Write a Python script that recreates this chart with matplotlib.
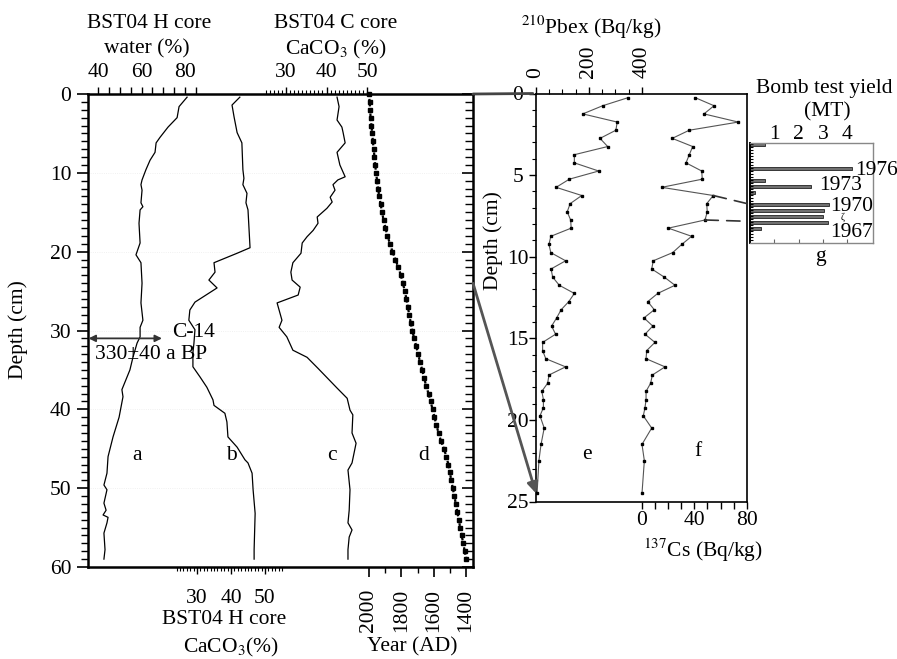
import matplotlib
matplotlib.use('Agg')
import matplotlib.pyplot as plt
from matplotlib.patches import ConnectionPatch
from matplotlib.ticker import FixedLocator

plt.rcParams['font.family'] = ['Liberation Serif', 'DejaVu Serif']
plt.rcParams['mathtext.fontset'] = 'stix'
FS = 15.5
W, H = 897, 659

# ---------------- data ----------------
# a: BST04 H core water content (%)
depth_a = [0.4, 1.6, 3.0, 4.2, 5.5, 6.2, 7.4, 8.4, 9.6, 10.9, 11.5, 12.2, 13.8, 14.3, 14.7,
           16.4, 18.9, 20.4, 21.4, 24.0, 26.5, 28.7, 29.6, 30.8, 31.6, 33.4, 35.0, 37.5, 38.4,
           41.0, 43.5, 46.0, 48.1, 49.6, 50.2, 51.9, 52.8, 53.4, 53.7, 54.4, 55.7, 57.8, 59.0]
water_a = [81.0, 77.3, 76.4, 72.2, 68.5, 66.7, 66.2, 63.9, 62.0, 60.2, 59.7, 60.2, 59.7, 60.6, 59.3,
           58.8, 59.3, 57.4, 59.7, 60.2, 59.7, 60.6, 59.3, 59.3, 57.9, 56.0, 54.6, 50.9, 51.4,
           49.6, 46.8, 44.5, 44.0, 42.6, 44.0, 42.6, 43.6, 42.2, 44.5, 44.0, 42.6, 43.1, 42.6]

# b: BST04 H core CaCO3 (%)
depth_b = [0.4, 1.4, 2.9, 4.9, 6.2, 9.6, 10.7, 11.5, 12.6, 13.8, 14.7, 19.5, 20.2, 21.4, 22.6,
           23.6, 24.6, 26.4, 27.4, 28.7, 29.9, 31.6, 32.8, 34.6, 35.9, 37.2, 38.8, 39.5, 40.5,
           41.6, 43.5, 44.8, 46.4, 46.8, 48.1, 50.2, 53.2, 57.8, 59.0]
caco3_b = [42.6, 40.3, 40.9, 41.8, 43.2, 43.5, 43.8, 43.5, 44.7, 44.4, 45.0, 45.6, 41.8, 35.0, 35.3,
           33.5, 35.9, 29.4, 27.9, 27.6, 29.4, 29.1, 28.8, 28.8, 30.9, 32.9, 34.7, 35.0, 38.2,
           38.8, 39.1, 41.8, 44.1, 45.0, 46.2, 46.5, 47.1, 46.8, 46.8]

# c: BST04 C core CaCO3 (%)
depth_c = [0.4, 1.6, 3.3, 4.2, 4.9, 6.2, 7.4, 9.0, 10.5, 10.9, 11.5, 12.2, 13.1, 13.7, 14.5,
           15.6, 16.4, 17.3, 18.1, 18.9, 20.2, 21.4, 22.6, 23.6, 24.5, 25.5, 26.5, 28.7, 29.6,
           30.8, 32.5, 33.4, 34.8, 37.3, 38.6, 40.1, 40.7, 43.0, 44.3, 46.8, 47.7, 50.2, 52.8,
           54.4, 55.3, 56.2, 57.8, 59.0]
caco3_c = [42.6, 43.1, 42.6, 43.8, 44.1, 44.6, 42.6, 43.3, 44.6, 42.8, 41.6, 42.1, 40.9, 41.4, 40.1,
           37.7, 37.9, 36.7, 35.2, 34.0, 33.7, 31.7, 31.2, 31.5, 33.5, 33.0, 27.8, 29.0, 28.3,
           30.2, 31.7, 35.2, 37.9, 42.6, 45.1, 45.8, 46.5, 46.3, 47.3, 46.3, 45.3, 45.8, 45.6,
           45.3, 46.3, 45.6, 45.3, 45.3]

# d: age model, Year (AD)
depth_d = [0, 1, 2, 3, 4, 5, 6, 7, 8, 9, 10, 11, 12, 13, 14, 15, 16, 17, 18, 19, 20, 21, 22, 23,
           24, 25, 26, 27, 28, 29, 30, 31, 32, 33, 34, 35, 36, 37, 38, 39, 40, 41, 42, 43, 44, 45,
           46, 47, 48, 49, 50, 51, 52, 53, 54, 55, 56, 57, 58, 59]
year_d = [2000, 1996, 1993, 1990, 1985, 1980, 1976, 1971, 1966, 1962, 1956, 1950, 1944, 1936, 1928,
          1919, 1910, 1898, 1886, 1870, 1855, 1837, 1818, 1803, 1791, 1778, 1769, 1760, 1751, 1742,
          1733, 1720, 1708, 1696, 1684, 1671, 1659, 1647, 1632, 1619, 1607, 1595, 1583, 1570, 1555,
          1537, 1521, 1509, 1500, 1491, 1482, 1472, 1463, 1454, 1445, 1436, 1427, 1417, 1408, 1399]

# e, f: 210Pbex and 137Cs (Bq/kg)
depth_ef = [0.25, 0.75, 1.25, 1.75, 2.25, 2.75, 3.25, 3.75, 4.25, 4.75, 5.25, 5.75, 6.25, 6.75,
            7.25, 7.75, 8.25, 8.75, 9.25, 9.75, 10.25, 10.75, 11.25, 11.75, 12.25, 12.75, 13.25,
            13.75, 14.25, 14.75, 15.25, 15.75, 16.25, 16.75, 17.25, 17.75, 18.25, 18.75, 19.25,
            19.75, 20.5, 21.5, 22.5, 24.5]
pb210 = [349, 252, 177, 307, 302, 242, 271, 145, 145, 237, 126, 76, 173, 129, 118, 131, 133, 56,
         49, 56, 112, 57, 63, 88, 145, 124, 95, 78, 59, 74, 25, 25, 37, 112, 49, 44, 22, 28, 28,
         15, 31, 19, 11, 4]
cs137 = [40.5, 55.0, 47.3, 73.5, 36.1, 23.1, 38.7, 36.1, 33.6, 45.6, 46.0, 15.0, 54.4, 49.4, 49.8,
         48.1, 20.1, 37.9, 30.3, 23.4, 8.6, 7.4, 17.0, 25.2, 12.0, 4.4, 9.4, 1.5, 8.2, 2.3, 9.9,
         3.6, 3.1, 17.6, 7.9, 6.6, 3.1, 3.1, 2.3, 1.0, 7.4, 0.0, 1.8, 0.0]

# g: bomb test yield (MT)
bomb_year = [1980, 1976, 1974, 1973, 1972, 1970, 1969, 1968, 1967, 1966]
bomb_yield = [0.6, 4.2, 0.6, 2.5, 0.2, 3.25, 3.05, 3.0, 3.2, 0.45]
bomb_labels = ['1976', '1973', '1970', '1967']

# ---------------- figure ----------------
fig = plt.figure(figsize=(W / 100, H / 100), dpi=100)


def rect(x0, y0, x1, y1):
    return [x0 / W, 1 - y1 / H, (x1 - x0) / W, (y1 - y0) / H]


def ftext(x, y, s, **kw):
    kw.setdefault('fontsize', FS)
    kw.setdefault('ha', 'center')
    kw.setdefault('va', 'center')
    fig.text(x / W, 1 - y / H, s, **kw)


# ---- left panel: create all twins first ----
axL = fig.add_axes(rect(88, 94, 473, 567))
axRt = axL.twinx()
axC = axL.twiny()
axH = axL.twiny()
axY = axL.twiny()

axL.set_ylim(60, 0)
axRt.set_ylim(60, 0)
for s in axL.spines.values():
    s.set_linewidth(1.8)
for a in (axRt, axC, axH, axY):
    for s in a.spines.values():
        s.set_visible(False)

# water axis (top)
axL.set_xlim(35.24, 213.07)
axL.xaxis.set_ticks_position('top')
axL.xaxis.set_major_locator(FixedLocator([40, 60, 80]))
axL.xaxis.set_minor_locator(FixedLocator([35, 45, 50, 55, 65, 70, 75, 85]))
axL.tick_params(axis='x', which='both', direction='out', top=True, bottom=False,
                labeltop=True, labelbottom=False, length=5, width=1, pad=3.5, labelsize=FS)

# depth axis (left)
axL.yaxis.set_ticks_position('left')
axL.yaxis.set_major_locator(FixedLocator(list(range(0, 61, 10))))
axL.yaxis.set_minor_locator(FixedLocator(list(range(0, 61, 1))))
axL.tick_params(axis='y', which='major', direction='out', length=8, width=1.2, pad=4, labelsize=FS)
axL.tick_params(axis='y', which='minor', direction='out', length=5, width=1.0)

# right-side inward ticks
axRt.yaxis.set_ticks_position('right')
axRt.yaxis.set_major_locator(FixedLocator(list(range(0, 61, 10))))
axRt.yaxis.set_minor_locator(FixedLocator(list(range(0, 61, 1))))
axRt.tick_params(axis='y', which='major', direction='in', length=8, width=1.2, labelright=False)
axRt.tick_params(axis='y', which='minor', direction='in', length=6, width=1.0)

# C core CaCO3 (top)
axC.set_xlim(-18.89, 76.17)
axC.xaxis.set_ticks_position('top')
axC.xaxis.set_major_locator(FixedLocator([30, 40, 50]))
axC.xaxis.set_minor_locator(FixedLocator([v for v in range(25, 51) if v % 10]))
axC.tick_params(axis='x', which='major', direction='out', length=5, width=1, pad=3.5, labelsize=FS)
axC.tick_params(axis='x', which='minor', direction='out', length=3, width=0.8)

# H core CaCO3 (bottom)
axH.set_xlim(-2.06, 111.18)
axH.xaxis.set_ticks_position('bottom')
axH.xaxis.set_major_locator(FixedLocator([30, 40, 50]))
axH.xaxis.set_minor_locator(FixedLocator([v for v in range(24, 56) if v % 10]))
axH.tick_params(axis='x', which='major', direction='out', length=5, width=1, pad=10.5, labelsize=FS)
axH.tick_params(axis='x', which='minor', direction='out', length=3, width=0.8)

# Year axis (bottom)
axY.set_xlim(3737.8, 1356.8)
axY.xaxis.set_ticks_position('bottom')
axY.xaxis.set_major_locator(FixedLocator([2000, 1800, 1600, 1400]))
axY.xaxis.set_minor_locator(FixedLocator([1900, 1700, 1500]))
axY.tick_params(axis='x', which='major', direction='out', length=7, width=1.2, pad=8.5,
                labelsize=FS, labelrotation=90)
axY.tick_params(axis='x', which='minor', direction='out', length=4, width=1.0)

# faint scan grid lines
for dv in [10, 20, 30, 40, 50]:
    axL.axhline(dv, color='#ececec', lw=0.6, ls=':', zorder=0)

# curves
axL.plot(water_a, depth_a, color='k', lw=0.9)
axH.plot(caco3_b, depth_b, color='k', lw=0.9)
axC.plot(caco3_c, depth_c, color='k', lw=0.9)
axY.plot(year_d, depth_d, color='k', lw=1.6, ls=(0, (1.2, 1.0)), marker='s', ms=2.6,
         mfc='k', mec='k', clip_on=False)

# curve letters
ytr = axL.get_yaxis_transform()
for lab, xf in zip(['a', 'b', 'c', 'd'], [0.1265, 0.373, 0.633, 0.873]):
    axL.text(xf, 45.9, lab, transform=ytr, ha='center', va='center', fontsize=FS)

# C-14 marker
axL.annotate('', xy=(35.5, 31), xytext=(69.4, 31),
             arrowprops=dict(arrowstyle='<|-|>', color='#333333', lw=1.3, shrinkA=0, shrinkB=0,
                             mutation_scale=10))
axL.text(74.0, 30.3, 'C-14', ha='left', va='center', fontsize=FS)
axL.text(38.5, 33.1, '330\u00b140 a BP', ha='left', va='center', fontsize=FS)

# ---- right panel (e, f) ----
axP = fig.add_axes(rect(536, 93.5, 747, 501.5))
axCs = axP.twiny()
for s in axCs.spines.values():
    s.set_visible(False)
axP.set_ylim(25, 0)
axP.set_xlim(0, 797.7)
for s in axP.spines.values():
    s.set_linewidth(1.2)
axP.xaxis.set_ticks_position('top')
axP.xaxis.set_major_locator(FixedLocator([0, 200, 400]))
axP.xaxis.set_minor_locator(FixedLocator([50, 100, 150, 250, 300, 350]))
axP.tick_params(axis='x', which='major', direction='out', top=True, bottom=False,
                labeltop=True, labelbottom=False, length=5, width=1, pad=6.5,
                labelsize=FS, labelrotation=90)
axP.tick_params(axis='x', which='minor', direction='out', top=True, bottom=False,
                length=3.5, width=0.8)
axP.yaxis.set_major_locator(FixedLocator([0, 5, 10, 15, 20, 25]))
axP.yaxis.set_minor_locator(FixedLocator(list(range(0, 26))))
axP.tick_params(axis='y', which='major', direction='out', length=5, width=1, pad=8, labelsize=FS)
axP.tick_params(axis='y', which='minor', direction='out', length=3, width=0.8)
for t in axP.get_yticklabels():
    t.set_ha('center')
axP.plot(pb210, depth_ef, color='#555555', lw=0.8, marker='s', ms=2, mfc='k', mec='k')

axCs.set_xlim(-80.9, 80.15)
axCs.xaxis.set_ticks_position('bottom')
axCs.xaxis.set_major_locator(FixedLocator([0, 40, 80]))
axCs.xaxis.set_minor_locator(FixedLocator([10, 20, 30, 50, 60, 70]))
axCs.tick_params(axis='x', which='both', direction='out', length=5, width=1, pad=2, labelsize=FS)
axCs.plot(cs137, depth_ef, color='#555555', lw=0.8, marker='s', ms=2, mfc='k', mec='k')

ytrP = axP.get_yaxis_transform()
axP.text(0.243, 22.15, 'e', transform=ytrP, ha='center', va='center', fontsize=FS)
axP.text(0.769, 21.95, 'f', transform=ytrP, ha='center', va='center', fontsize=FS)

# ---- bomb test panel (g) ----
axB = fig.add_axes(rect(750, 142.7, 872.7, 242.7))
axB.set_xlim(0, 5.05)
axB.set_ylim(1963.6, 1980.27)
axB.barh(bomb_year, bomb_yield, height=0.5, color='#707070', edgecolor='#222222', lw=0.6)
for k, s in axB.spines.items():
    s.set_linewidth(1.0)
    s.set_color('#888888')
axB.spines['left'].set_color('k')
axB.spines['left'].set_linewidth(1.4)
axB.xaxis.set_major_locator(FixedLocator([1, 2, 3, 4]))
axB.tick_params(axis='x', which='major', direction='in', top=False, bottom=True,
                labeltop=True, labelbottom=False, length=3, width=0.8, pad=-1, labelsize=FS,
                color='#666666')
axB.yaxis.set_major_locator(FixedLocator([y / 2 for y in range(3928, 3961)]))
axB.tick_params(axis='y', which='major', direction='in', length=2.5, width=0.8, labelleft=False)
label_pos = [(4.32, 1975.7), (2.84, 1973.2), (3.29, 1969.7), (3.29, 1965.3)]
for lab, (xv, yv) in zip(bomb_labels, label_pos):
    axB.text(xv, yv, lab, ha='left', va='center', fontsize=FS, clip_on=False)
axB.text(3.83, 1967.9, '\u03b6', ha='center', va='center', fontsize=7, clip_on=False)

# connection lines
fig.add_artist(ConnectionPatch(xyA=(cs137[12], depth_ef[12]), coordsA=axCs.transData,
                               xyB=(0, bomb_year[5]), coordsB=axB.transData,
                               color='#333333', lw=1.2, ls=(0, (8, 5))))
fig.add_artist(ConnectionPatch(xyA=(cs137[15], depth_ef[15]), coordsA=axCs.transData,
                               xyB=(-0.34, bomb_year[8] + 0.2), coordsB=axB.transData,
                               color='#333333', lw=1.2, ls=(0, (8, 5))))
fig.add_artist(ConnectionPatch(xyA=(1.0, 0), coordsA=axL.get_yaxis_transform(),
                               xyB=(-0.015, 0), coordsB=axP.get_yaxis_transform(),
                               color='#444444', lw=2))
fig.add_artist(ConnectionPatch(xyA=(1.0, 24.0), coordsA=axL.get_yaxis_transform(),
                               xyB=(0.0, 24.5), coordsB=axP.get_yaxis_transform(),
                               color='#555555', lw=2, arrowstyle='-|>', mutation_scale=16))

# ---- titles / axis texts ----
ftext(149.5, 23, 'BST04 H core')
ftext(147, 49, 'water (%)')
ftext(336, 23, 'BST04 C core')
ftext(335.5, 49, 'CaCO$_3$ (%)')
ftext(224, 620, 'BST04 H core')
ftext(231, 647, 'CaCO$_3$(%)')
ftext(412, 647, 'Year (AD)')
ftext(18, 330, 'Depth (cm)', rotation=90)
ftext(493, 241, 'Depth (cm)', rotation=90)
ftext(591.5, 27, '$^{210}$Pbex (Bq/kg)')
ftext(702.5, 550, '$^{137}$Cs (Bq/kg)')
ftext(824, 88, 'Bomb test yield')
ftext(827.5, 112, '(MT)')
ftext(820, 257, 'g')

fig.savefig('out.png', dpi=100)
